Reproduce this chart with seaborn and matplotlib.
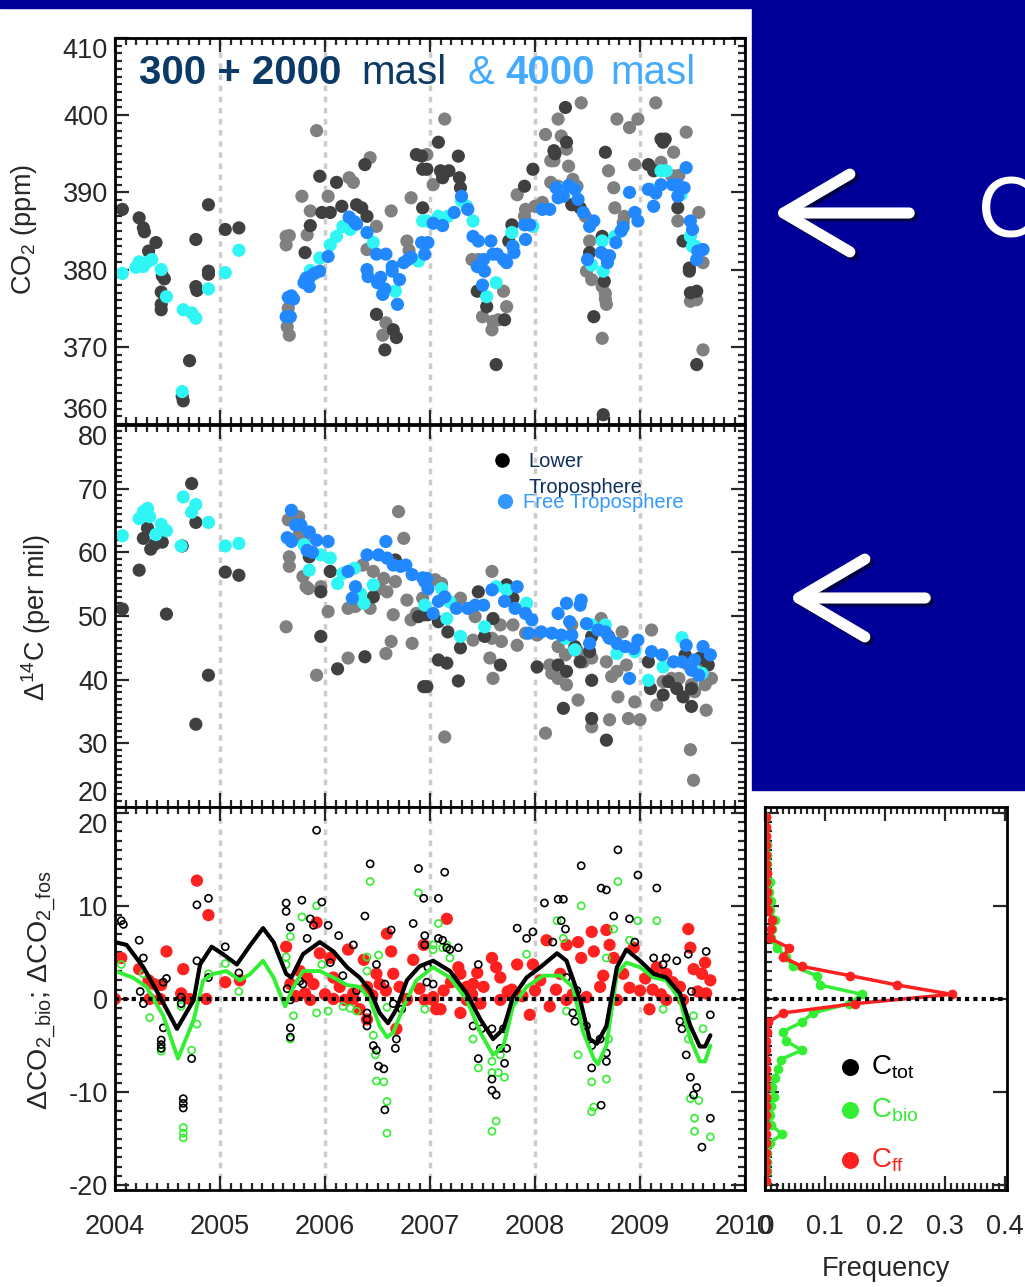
"""
plot.py - CO2, D14C and CO2 source components at the mountain stations,
2004-2010, with a frequency panel for the bio / fossil components.
"""

import numpy as np
import matplotlib
matplotlib.use("Agg")
import matplotlib.pyplot as plt
from matplotlib.ticker import MultipleLocator
from matplotlib.patches import Rectangle, FancyArrowPatch
import seaborn as sns


# ─────────────────────────────────────────────
# Data (decimal year, value)
# ─────────────────────────────────────────────

co2_dark = np.array([
    [2004.07, 387.8], [2004.23, 386.7], [2004.27, 385.4], [2004.28, 384.9], [2004.39, 383.5],
    [2004.32, 382.4], [2004.45, 379.2], [2004.47, 378.8], [2004.44, 377.1], [2004.44, 375.5],
    [2004.44, 374.8], [2004.71, 368.2], [2004.64, 363.6], [2004.65, 363.0], [2004.77, 383.9],
    [2004.77, 377.8], [2004.78, 377.3], [2004.89, 379.8], [2004.89, 379.4], [2004.89, 388.4],
    [2005.05, 385.2], [2005.18, 385.4], [2005.81, 382.2], [2005.86, 385.7], [2005.95, 392.1],
    [2005.97, 387.4], [2006.05, 387.4], [2006.11, 391.3], [2006.16, 388.2], [2006.38, 393.6],
    [2006.30, 388.4], [2006.35, 388.0], [2006.40, 386.9], [2006.49, 374.2], [2006.57, 369.6],
    [2006.65, 372.2], [2006.68, 371.2], [2006.87, 394.9], [2006.92, 394.7], [2006.93, 393.0],
    [2006.93, 388.0], [2006.97, 393.0], [2007.08, 396.5], [2007.10, 392.8], [2007.18, 392.8],
    [2007.12, 391.9], [2007.27, 394.7], [2007.28, 391.9], [2007.29, 390.6], [2007.45, 377.2],
    [2007.54, 375.2], [2007.71, 373.5], [2007.63, 367.7], [2007.78, 385.8], [2007.75, 383.7],
    [2007.90, 390.8], [2007.98, 393.0], [2008.18, 395.4], [2008.19, 395.0], [2008.29, 401.0],
    [2008.30, 396.5], [2008.35, 388.4], [2008.43, 388.0], [2008.52, 382.2], [2008.56, 373.9],
    [2008.64, 384.3], [2008.67, 395.2], [2008.66, 378.5], [2008.65, 361.2], [2009.08, 393.6],
    [2009.13, 392.8], [2009.20, 396.9], [2009.22, 396.5], [2009.24, 396.9], [2009.36, 388.0],
    [2009.41, 383.7], [2009.47, 380.2], [2009.47, 379.8], [2009.48, 377.0], [2009.54, 377.2],
    [2009.54, 367.7],
])

co2_grey = np.array([
    [2005.63, 384.3], [2005.66, 384.4], [2005.63, 383.2], [2005.64, 372.6], [2005.66, 371.5],
    [2005.65, 375.0], [2005.78, 389.5], [2005.83, 384.5], [2005.86, 387.6], [2005.92, 398.0],
    [2006.03, 389.5], [2006.23, 391.9], [2006.27, 391.3], [2006.43, 394.5], [2006.49, 385.6],
    [2006.40, 382.6], [2006.55, 371.5], [2006.58, 373.1], [2006.63, 387.6], [2006.80, 382.5],
    [2006.78, 383.7], [2006.82, 389.3], [2006.97, 394.9], [2007.14, 399.5], [2007.03, 391.0],
    [2007.40, 381.3], [2007.46, 381.3], [2007.50, 373.9], [2007.60, 373.3], [2007.65, 373.5],
    [2007.59, 372.2], [2007.70, 377.2], [2007.73, 375.2], [2007.83, 389.7], [2007.91, 387.8],
    [2007.90, 386.9], [2008.00, 388.2], [2008.07, 388.7], [2008.10, 397.5], [2008.15, 394.1],
    [2008.18, 394.1], [2008.22, 399.5], [2008.44, 401.6], [2008.25, 397.3], [2008.30, 395.6],
    [2008.32, 393.4], [2008.15, 391.3], [2008.22, 390.8], [2008.27, 390.4], [2008.36, 391.7],
    [2008.40, 390.8], [2008.48, 386.9], [2008.52, 383.7], [2008.49, 379.8], [2008.54, 378.7],
    [2008.64, 377.8], [2008.67, 376.9], [2008.67, 376.2], [2008.68, 375.5], [2008.64, 371.1],
    [2008.70, 392.8], [2008.75, 390.6], [2008.76, 388.0], [2008.85, 386.9], [2008.84, 386.1],
    [2008.95, 393.6], [2008.78, 399.5], [2008.90, 398.4], [2008.98, 399.5], [2009.15, 401.6],
    [2009.20, 393.9], [2009.32, 395.2], [2009.30, 392.2], [2009.37, 392.2], [2009.44, 397.8],
    [2009.36, 386.3], [2009.56, 387.4], [2009.60, 380.9], [2009.48, 375.9], [2009.54, 376.1],
    [2009.60, 369.6],
])

co2_cyan = np.array([
    [2004.07, 379.5], [2004.20, 380.3], [2004.23, 381.0], [2004.27, 380.4], [2004.30, 380.9],
    [2004.35, 381.3], [2004.44, 380.0], [2004.49, 376.5], [2004.65, 374.8], [2004.73, 374.4],
    [2004.77, 373.7], [2004.64, 364.2], [2004.89, 377.5], [2005.05, 379.6], [2005.18, 382.5],
    [2005.86, 379.9], [2005.95, 381.5], [2006.05, 383.2], [2006.11, 384.3], [2006.17, 385.6],
    [2006.24, 385.2], [2006.46, 383.5], [2006.55, 376.8], [2006.67, 377.2], [2006.89, 381.1],
    [2006.93, 386.3], [2006.97, 386.3], [2007.08, 386.9], [2007.17, 386.9], [2007.30, 388.9],
    [2007.35, 388.2], [2007.41, 386.3], [2007.54, 376.5], [2007.63, 378.3], [2007.78, 384.8],
    [2007.79, 383.0], [2007.98, 385.6], [2008.25, 390.4], [2008.38, 390.4], [2008.54, 380.6],
    [2008.64, 383.7], [2008.65, 379.8], [2008.76, 384.3], [2009.10, 390.4], [2009.20, 392.8],
    [2009.25, 392.8], [2009.39, 389.7], [2009.48, 384.3], [2009.50, 383.0], [2009.53, 383.0],
])

co2_blue = np.array([
    [2005.63, 373.9], [2005.67, 373.9], [2005.65, 376.4], [2005.68, 376.6], [2005.70, 376.2],
    [2005.80, 378.3], [2005.82, 378.9], [2005.85, 377.8], [2005.86, 379.1], [2005.90, 379.5],
    [2005.95, 379.8], [2006.03, 381.7], [2006.23, 386.8], [2006.30, 385.9], [2006.28, 386.2],
    [2006.40, 384.8], [2006.49, 382.0], [2006.58, 382.0], [2006.40, 380.0], [2006.41, 379.1],
    [2006.50, 378.3], [2006.53, 379.0], [2006.57, 377.5], [2006.55, 376.8], [2006.64, 380.4],
    [2006.64, 379.8], [2006.69, 375.5], [2006.71, 378.7], [2006.75, 380.9], [2006.79, 381.3],
    [2006.82, 381.6], [2006.92, 383.5], [2006.95, 382.0], [2006.98, 383.5], [2007.03, 386.0],
    [2007.12, 385.7], [2007.23, 387.4], [2007.30, 389.5], [2007.36, 387.8], [2007.41, 384.3],
    [2007.46, 383.7], [2007.45, 380.4], [2007.50, 378.0], [2007.52, 379.8], [2007.51, 381.3],
    [2007.58, 383.7], [2007.60, 382.0], [2007.64, 382.0], [2007.70, 381.3], [2007.73, 380.9],
    [2007.80, 382.2], [2007.79, 383.0], [2007.91, 383.9], [2007.90, 385.8], [2007.95, 385.8],
    [2008.07, 387.8], [2008.14, 387.8], [2008.20, 390.6], [2008.27, 389.5], [2008.32, 390.9],
    [2008.38, 390.4], [2008.22, 389.3], [2008.41, 389.1], [2008.46, 387.4], [2008.52, 385.6],
    [2008.56, 386.3], [2008.50, 381.3], [2008.63, 382.2], [2008.67, 381.8], [2008.71, 381.8],
    [2008.69, 380.9], [2008.77, 383.5], [2008.82, 385.0], [2008.84, 385.5], [2008.90, 390.0],
    [2008.95, 387.4], [2008.98, 386.3], [2009.08, 390.4], [2009.15, 389.9], [2009.13, 388.2],
    [2009.20, 391.0], [2009.31, 391.0], [2009.36, 391.0], [2009.42, 390.6], [2009.36, 389.5],
    [2009.44, 393.2], [2009.48, 386.3], [2009.50, 385.2], [2009.55, 382.4], [2009.60, 382.6],
    [2009.54, 381.3],
])

d14_dark = np.array([
    [2004.07, 51.1], [2004.23, 57.2], [2004.27, 62.2], [2004.31, 63.8], [2004.34, 60.5],
    [2004.38, 61.3], [2004.45, 61.6], [2004.49, 50.3], [2004.73, 70.8], [2004.77, 64.7],
    [2004.64, 61.0], [2004.89, 40.7], [2004.77, 33.0], [2005.05, 56.9], [2005.18, 56.4],
    [2005.85, 59.3], [2005.96, 53.8], [2006.05, 57.0], [2005.96, 46.8], [2006.12, 41.7],
    [2006.38, 43.6], [2006.94, 38.9], [2006.67, 58.8], [2006.46, 53.0], [2006.89, 49.9],
    [2006.95, 50.2], [2006.98, 50.2], [2007.08, 49.1], [2007.17, 47.5], [2007.29, 45.0],
    [2007.46, 53.8], [2007.52, 46.8], [2007.67, 42.3], [2007.73, 54.9], [2007.79, 52.8],
    [2007.08, 43.1], [2007.16, 42.6], [2007.27, 39.8], [2006.97, 38.9], [2007.60, 49.6],
    [2008.02, 42.0], [2008.22, 42.3], [2008.30, 41.3], [2008.54, 39.9], [2008.27, 35.5],
    [2008.54, 33.9], [2008.68, 30.5], [2008.52, 44.4], [2008.38, 45.2], [2008.54, 46.8],
    [2008.43, 42.8], [2008.70, 46.8], [2009.08, 42.8], [2009.10, 38.6], [2009.22, 37.6],
    [2009.27, 39.7], [2009.35, 38.6], [2009.41, 37.3], [2009.49, 35.8], [2009.43, 43.9],
    [2009.57, 43.4], [2009.65, 42.3], [2009.49, 38.6],
])

d14_grey = np.array([
    [2005.63, 48.3], [2005.65, 65.1], [2005.75, 65.6], [2005.66, 59.3], [2005.66, 57.8],
    [2005.79, 56.2], [2005.82, 54.6], [2005.84, 54.3], [2005.75, 62.7], [2005.80, 61.7],
    [2005.96, 54.6], [2006.03, 50.7], [2005.92, 40.7], [2006.22, 43.4], [2006.58, 44.1],
    [2006.63, 46.0], [2006.83, 45.7], [2006.22, 51.2], [2006.29, 51.5], [2006.43, 51.2],
    [2006.36, 58.0], [2006.46, 57.0], [2006.56, 55.9], [2006.67, 55.4], [2006.70, 66.4],
    [2006.75, 62.2], [2006.78, 52.5], [2006.93, 52.8], [2006.87, 50.4], [2006.82, 49.4],
    [2006.65, 50.2], [2006.52, 54.3], [2006.59, 53.8], [2007.05, 55.7], [2007.11, 55.1],
    [2007.29, 52.8], [2007.43, 49.9], [2007.41, 46.2], [2007.59, 46.5], [2007.67, 48.6],
    [2007.83, 45.4], [2007.57, 43.4], [2007.60, 40.2], [2007.91, 47.3], [2007.68, 46.0],
    [2007.79, 48.6], [2007.59, 57.0], [2007.14, 31.0], [2008.02, 47.0], [2008.14, 42.3],
    [2008.16, 41.0], [2008.22, 40.2], [2008.30, 39.2], [2008.41, 36.8], [2008.54, 32.6],
    [2008.71, 33.7], [2008.79, 37.3], [2008.89, 33.9], [2008.95, 36.5], [2009.00, 33.7],
    [2008.35, 48.6], [2008.41, 44.4], [2008.46, 42.8], [2008.54, 43.4], [2008.68, 42.8],
    [2008.73, 40.5], [2008.78, 41.3], [2008.87, 42.3], [2008.63, 49.6], [2008.83, 47.5],
    [2008.10, 31.6], [2008.22, 45.2], [2008.29, 43.9], [2009.11, 47.8], [2009.16, 36.0],
    [2009.22, 39.7], [2009.30, 40.2], [2009.37, 40.2], [2009.49, 39.2], [2009.52, 38.1],
    [2009.62, 39.2], [2009.68, 40.2], [2009.63, 35.2], [2009.48, 29.0], [2009.51, 24.2],
    [2009.46, 42.3], [2009.60, 42.3],
])

d14_cyan = np.array([
    [2004.07, 62.6], [2004.23, 65.3], [2004.27, 66.4], [2004.31, 66.9], [2004.33, 65.6],
    [2004.39, 62.8], [2004.44, 64.4], [2004.49, 63.4], [2004.65, 68.7], [2004.77, 67.5],
    [2004.73, 66.3], [2004.89, 64.7], [2004.63, 61.0], [2005.05, 61.0], [2005.18, 61.4],
    [2005.80, 61.2], [2005.96, 59.6], [2006.05, 59.1], [2005.85, 57.2], [2006.12, 55.1],
    [2006.17, 56.7], [2006.28, 57.5], [2006.37, 52.0], [2006.34, 53.5], [2006.46, 54.9],
    [2006.95, 51.7], [2007.11, 54.3], [2007.14, 52.8], [2007.19, 52.2], [2007.16, 49.6],
    [2007.29, 46.8], [2007.52, 48.3], [2007.63, 54.6], [2007.73, 54.1], [2007.92, 52.0],
    [2008.29, 46.5], [2008.38, 44.7], [2008.54, 48.6], [2008.67, 48.6], [2008.78, 44.1],
    [2008.95, 44.4], [2009.08, 39.9], [2009.22, 42.0], [2009.40, 46.6], [2009.51, 41.8],
    [2009.59, 41.0],
])

d14_blue = np.array([
    [2005.68, 66.6], [2005.64, 62.3], [2005.68, 61.7], [2005.72, 64.3], [2005.77, 64.3],
    [2005.85, 63.2], [2005.92, 61.9], [2005.83, 60.3], [2005.88, 60.0], [2006.03, 61.7],
    [2006.22, 57.0], [2006.29, 54.6], [2006.26, 52.8], [2006.40, 59.6], [2006.51, 59.6],
    [2006.58, 61.7], [2006.59, 59.1], [2006.65, 58.0], [2006.72, 57.8], [2006.77, 58.0],
    [2006.83, 56.5], [2006.93, 56.0], [2006.95, 55.4], [2006.97, 55.9], [2006.98, 54.3],
    [2007.08, 52.3], [2007.14, 53.0], [2007.03, 50.4], [2007.25, 51.2], [2007.36, 51.2],
    [2007.43, 51.7], [2007.51, 51.7], [2007.59, 54.1], [2007.71, 52.3], [2007.81, 51.2],
    [2007.83, 54.6], [2007.91, 50.4], [2007.97, 49.4], [2007.94, 47.3], [2008.06, 47.5],
    [2008.16, 47.3], [2008.25, 47.0], [2008.35, 47.0], [2008.22, 50.4], [2008.30, 52.0],
    [2008.33, 49.1], [2008.43, 51.7], [2008.44, 52.5], [2008.49, 48.8], [2008.52, 45.7],
    [2008.60, 47.8], [2008.67, 47.5], [2008.71, 46.5], [2008.78, 45.7], [2008.86, 45.2],
    [2008.94, 44.9], [2008.98, 46.2], [2008.90, 40.2], [2009.11, 44.4], [2009.21, 43.9],
    [2009.32, 42.8], [2009.40, 42.8], [2009.49, 41.5], [2009.52, 43.1], [2009.60, 45.2],
    [2009.67, 43.9], [2009.56, 40.7], [2009.44, 45.4],
])

ff_red = np.array([
    [2004.06, 4.4], [2004.00, 0.0], [2004.23, 3.2], [2004.32, 2.0], [2004.37, 1.6],
    [2004.44, 1.5], [2004.33, 0.0], [2004.43, 0.0], [2004.49, 5.1], [2004.65, 3.2],
    [2004.63, 0.6], [2004.71, 0.0], [2004.78, 12.7], [2004.89, 9.0], [2005.05, 1.8],
    [2005.19, 2.0], [2004.87, 0.0], [2005.63, 5.6], [2005.67, 1.6], [2005.76, 3.0],
    [2005.83, 2.3], [2005.89, 1.6], [2005.81, 0.6], [2005.86, -0.1], [2005.92, 8.2],
    [2005.95, 4.9], [2006.05, 4.4], [2006.08, 2.3], [2006.14, 1.3], [2006.22, 5.3],
    [2006.19, -0.1], [2006.27, 0.6], [2006.37, 4.2], [2006.40, 1.3], [2006.49, 2.7],
    [2006.59, 7.0], [2006.63, 5.1], [2006.52, 1.6], [2006.65, 2.7], [2006.71, 1.3],
    [2006.33, -1.1], [2006.40, -2.2], [2006.68, -3.2], [2006.84, 4.2], [2006.94, 5.8],
    [2006.90, 1.1], [2007.06, -1.1], [2007.16, 8.6], [2007.13, 0.9], [2007.03, 0.2],
    [2006.95, -0.1], [2006.78, 0.0], [2006.08, 0.0], [2006.27, 0.0], [2007.27, 3.4],
    [2007.29, 2.7], [2007.35, 1.3], [2007.41, 1.6], [2007.51, 1.3], [2007.59, 4.4],
    [2007.63, 3.4], [2007.67, 2.3], [2007.83, 3.7], [2007.98, 3.7], [2008.11, 6.3],
    [2008.24, 2.7], [2008.30, 5.8], [2008.41, 6.1], [2008.44, 4.4], [2008.54, 7.2],
    [2008.56, 5.1], [2008.68, 7.4], [2008.71, 5.8], [2008.75, 4.4], [2008.84, 2.7],
    [2008.94, 5.5], [2009.16, 3.4], [2009.25, 2.7], [2009.46, 7.5], [2009.48, 5.5],
    [2009.51, 3.2], [2009.62, 3.9], [2009.67, 2.0], [2009.59, 2.7], [2007.10, -1.1],
    [2007.29, -1.5], [2007.95, -1.7], [2009.09, -1.1], [2006.78, -0.1], [2007.03, -0.1],
    [2007.67, -0.1], [2008.30, -0.1], [2008.78, -0.1], [2009.25, -0.1], [2009.41, -0.1],
    [2007.35, -0.1], [2007.48, -0.5], [2008.14, -0.8], [2008.49, 0.2], [2008.62, 1.3],
    [2009.00, 0.9], [2009.38, 1.3], [2007.40, 0.5], [2007.78, 1.0], [2007.88, 0.3],
    [2008.05, 2.0], [2008.20, 1.0], [2008.36, 0.5], [2008.90, 1.2], [2009.05, 2.2],
    [2009.20, 0.5], [2009.31, 1.8], [2009.55, 0.8], [2006.45, 0.4], [2006.58, 0.9],
    [2006.00, 0.5], [2005.72, 0.3], [2007.20, 1.8], [2007.45, 2.8], [2007.74, 0.8],
    [2008.00, 0.9], [2008.65, 2.5], [2009.12, 1.0], [2009.63, 0.6],
])

tot_black = np.array([
    [2004.06, 8.4], [2004.08, 8.0], [2004.23, 6.3], [2004.27, 4.4], [2004.24, 0.8],
    [2004.27, -0.5], [2004.46, 1.8], [2004.49, 2.2], [2004.46, -3.1], [2004.44, -4.4],
    [2004.44, -4.9], [2004.44, -5.3], [2004.63, 0.2], [2004.63, -0.5], [2004.65, -10.7],
    [2004.65, -11.2], [2004.65, -11.7], [2004.73, -6.4], [2004.78, 4.1], [2004.78, 10.1],
    [2004.89, 10.8], [2004.89, 2.3], [2005.05, 5.6], [2005.18, 2.8], [2005.63, 10.3],
    [2005.63, 9.4], [2005.67, 7.7], [2005.78, 10.6], [2005.97, 10.4], [2005.92, 18.1],
    [2005.86, 8.6], [2005.89, 7.9], [2005.83, 6.5], [2005.64, 1.1], [2005.67, -0.1],
    [2005.67, -3.1], [2005.67, -4.1], [2005.76, 1.9], [2005.79, 1.6], [2006.03, 7.9],
    [2006.05, 3.9], [2006.13, 6.8], [2006.17, 2.5], [2006.27, 5.8], [2006.30, 0.9],
    [2006.38, 8.9], [2006.40, -1.5], [2006.40, -2.2], [2006.40, -2.9], [2006.43, 14.5],
    [2006.46, -5.0], [2006.49, -5.5], [2006.51, -7.2], [2006.56, -7.5], [2006.57, -11.9],
    [2006.49, 3.7], [2006.57, 1.6], [2006.63, 7.4], [2006.65, -0.5], [2006.68, -4.3],
    [2006.67, -5.3], [2006.73, -1.1], [2006.84, 8.1], [2006.89, 14.0], [2006.94, 10.8],
    [2007.08, 10.8], [2007.14, 13.6], [2006.95, 5.8], [2007.03, 1.6], [2006.98, 3.4],
    [2007.16, 5.5], [2006.95, 6.8], [2007.08, 6.5], [2007.12, 6.3], [2007.19, 5.3],
    [2007.27, 5.5], [2006.97, 1.8], [2007.46, 3.7], [2007.41, -2.9], [2007.46, -6.4],
    [2007.49, -3.2], [2007.59, -3.2], [2007.59, -8.6], [2007.59, -9.8], [2007.63, -10.3],
    [2007.71, -6.9], [2007.67, -5.3], [2007.73, -5.3], [2007.70, -3.2], [2007.83, 7.6],
    [2007.92, 6.5], [2007.98, 7.2], [2008.09, 10.3], [2008.22, 10.7], [2008.27, 10.7],
    [2008.25, 8.4], [2008.29, 7.5], [2008.44, 14.3], [2008.63, 11.9], [2008.68, 11.7],
    [2008.75, 8.9], [2008.79, 16.0], [2008.90, 8.6], [2008.95, 6.1], [2008.98, 13.3],
    [2009.16, 11.9], [2009.13, 4.4], [2009.22, 3.7], [2009.25, 4.4], [2009.35, 4.1],
    [2009.46, 4.8], [2009.49, 0.8], [2009.38, -2.4], [2009.40, -3.2], [2009.44, -6.0],
    [2009.48, -8.4], [2009.51, -10.3], [2009.54, -9.5], [2009.59, -15.9], [2009.67, -12.8],
    [2009.63, 5.1], [2009.67, -1.7], [2008.36, -1.5], [2008.38, -2.4], [2008.49, -2.9],
    [2008.54, -5.0], [2008.54, -7.4], [2008.63, -11.4], [2008.68, -5.8], [2008.68, -6.7],
    [2008.62, -4.3], [2008.17, 6.1], [2008.30, 2.3], [2008.40, 0.9],
])

bio_green = np.array([
    [2004.06, 3.7], [2004.27, 2.7], [2004.33, -2.0], [2004.44, -5.3], [2004.44, -5.6],
    [2004.63, -0.8], [2004.73, -5.5], [2004.65, -13.8], [2004.65, -14.4], [2004.65, -14.9],
    [2004.78, -2.7], [2004.89, 2.7], [2005.05, 3.8], [2005.18, 0.8], [2005.63, 4.5],
    [2005.63, 3.7], [2005.67, 6.7], [2005.78, 8.8], [2005.92, 10.0], [2005.67, -4.3],
    [2005.70, -1.8], [2005.92, -1.5], [2006.03, -1.3], [2005.97, 3.7], [2006.17, -0.8],
    [2006.24, -1.0], [2006.30, -1.3], [2006.40, 4.5], [2006.40, 3.0], [2006.43, 12.6],
    [2006.46, -3.9], [2006.48, -6.0], [2006.49, -8.8], [2006.56, -8.9], [2006.59, -11.0],
    [2006.59, -14.4], [2006.59, -0.9], [2006.51, 4.7], [2007.03, 5.3], [2006.89, 11.4],
    [2007.08, 8.1], [2006.95, -1.1], [2007.16, 5.8], [2007.03, 5.8], [2007.12, 5.5],
    [2007.19, 4.4], [2007.41, -4.3], [2007.46, -7.4], [2007.59, -6.7], [2007.59, -7.9],
    [2007.65, -7.9], [2007.71, -8.4], [2007.63, -13.1], [2007.59, -14.2], [2007.67, -6.0],
    [2007.92, 4.8], [2008.21, 8.4], [2008.27, 6.5], [2008.44, 10.0], [2008.54, -8.9],
    [2008.56, -11.6], [2008.54, -12.1], [2008.68, -8.6], [2008.41, -6.0], [2008.70, -4.3],
    [2008.79, 12.6], [2008.98, 8.4], [2008.90, 6.3], [2009.16, 8.4], [2008.75, 7.5],
    [2009.46, -4.3], [2009.48, -10.7], [2009.52, -12.8], [2009.52, -14.2], [2009.56, -10.9],
    [2009.67, -14.8], [2009.60, -3.2], [2009.51, -1.8], [2008.68, 4.4], [2008.30, -1.3],
    [2009.22, -1.1],
])

# smooth curves through the components
tot_curve = np.array([
    [2004.00, 6.1], [2004.11, 5.8], [2004.27, 3.4], [2004.43, 0.2], [2004.59, -3.2],
    [2004.75, -0.1], [2004.81, 3.7], [2004.92, 5.6], [2005.03, 4.8], [2005.16, 3.7],
    [2005.29, 5.8], [2005.41, 7.6], [2005.51, 6.1], [2005.63, 2.7], [2005.68, 2.3],
    [2005.79, 4.8], [2005.95, 6.1], [2006.08, 5.1], [2006.21, 3.4], [2006.33, 2.3],
    [2006.43, 0.9], [2006.52, -1.5], [2006.60, -2.6], [2006.68, -1.1], [2006.78, 2.0],
    [2006.90, 3.5], [2007.03, 4.1], [2007.19, 3.0], [2007.35, 0.6], [2007.48, -2.2],
    [2007.60, -4.3], [2007.70, -3.2], [2007.79, 0.2], [2007.92, 2.3], [2008.05, 3.4],
    [2008.21, 4.9], [2008.30, 4.1], [2008.43, -0.1], [2008.52, -4.3], [2008.59, -4.8],
    [2008.68, -2.9], [2008.78, 3.4], [2008.87, 5.3], [2009.00, 4.1], [2009.13, 2.7],
    [2009.25, 2.3], [2009.38, 0.6], [2009.48, -2.9], [2009.57, -5.1], [2009.62, -5.1],
    [2009.67, -3.9],
])

bio_curve = np.array([
    [2004.00, 3.0], [2004.17, 2.3], [2004.30, 1.3], [2004.46, -1.8], [2004.60, -6.4],
    [2004.75, -2.2], [2004.84, 2.0], [2004.94, 2.7], [2005.06, 3.0], [2005.19, 2.0],
    [2005.29, 2.7], [2005.41, 4.1], [2005.51, 2.3], [2005.62, -0.8], [2005.70, 1.3],
    [2005.79, 3.0], [2005.95, 3.0], [2006.08, 2.3], [2006.21, 1.5], [2006.33, 1.3],
    [2006.43, -0.1], [2006.52, -2.9], [2006.59, -4.1], [2006.65, -3.6], [2006.75, -0.8],
    [2006.87, 2.0], [2007.03, 3.4], [2007.19, 2.3], [2007.35, -0.1], [2007.48, -3.6],
    [2007.60, -6.0], [2007.70, -5.0], [2007.79, -0.8], [2007.92, 1.3], [2008.08, 2.5],
    [2008.24, 2.5], [2008.36, 1.3], [2008.46, -3.6], [2008.56, -6.4], [2008.60, -7.0],
    [2008.68, -5.0], [2008.78, 2.7], [2008.87, 3.9], [2009.00, 3.4], [2009.13, 2.3],
    [2009.25, 2.0], [2009.38, -0.1], [2009.48, -4.3], [2009.57, -6.7], [2009.62, -6.7],
    [2009.67, -5.0],
])

# frequency distribution of the components (1 ppm bins)
hist_bins = [19.5, 18.5, 17.5, 16.5, 15.5, 14.5, 13.5, 12.5, 11.5, 10.5,
             9.5, 8.5, 7.5, 6.5, 5.5, 4.5, 3.5, 2.5, 1.5, 0.5,
             -0.5, -1.5, -2.5, -3.5, -4.5, -5.5, -6.5, -7.5, -8.5, -9.5,
             -10.5, -11.5, -12.5, -13.5, -14.5, -15.5, -16.5, -17.5, -18.5, -19.5]
hist_bio = [0.002, 0.002, 0.002, 0.003, 0.003, 0.004, 0.004, 0.008, 0.006, 0.010,
            0.008, 0.017, 0.012, 0.010, 0.020, 0.035, 0.047, 0.086, 0.092, 0.161,
            0.140, 0.080, 0.061, 0.030, 0.035, 0.061, 0.026, 0.022, 0.017, 0.012,
            0.015, 0.010, 0.008, 0.010, 0.028, 0.008, 0.004, 0.003, 0.003, 0.002]
hist_ff = [0.001, 0.001, 0.002, 0.001, 0.002, 0.001, 0.003, 0.002, 0.004, 0.003,
           0.005, 0.012, 0.010, 0.008, 0.040, 0.030, 0.061, 0.142, 0.220, 0.311,
           0.150, 0.030, 0.005, 0.003, 0.002, 0.002, 0.002, 0.001, 0.002, 0.001,
           0.002, 0.001, 0.002, 0.001, 0.002, 0.001, 0.002, 0.001, 0.002, 0.001]

years = [2004, 2005, 2006, 2007, 2008, 2009, 2010]
freq_ticks = [0, 0.1, 0.2, 0.3, 0.4]
freq_labels = ["0", "0.1", "0.2", "0.3", "0.4"]


# ─────────────────────────────────────────────
# Style
# ─────────────────────────────────────────────

sns.set_style("ticks")
plt.rcParams["font.family"] = ["Liberation Sans", "DejaVu Sans"]
plt.rcParams["mathtext.fontset"] = "custom"
plt.rcParams["mathtext.rm"] = "Liberation Sans"
plt.rcParams["mathtext.it"] = "Liberation Sans:italic"
plt.rcParams["mathtext.bf"] = "Liberation Sans:bold"

NAVY_BG = "#000099"
DARK = "#404040"
GREY = "#808080"
CYAN = "#30f5f5"
BLUE = "#2288ff"
LIME = "#33ee33"
RED = "#ff2020"
TICK_FS = 19.5
LABEL_FS = 19.5

W, H = 1025, 1287


def fx(px):
    return px / W


def fy(py):
    return 1 - py / H


def style_axes(ax, xmajor, xminor, ymajor, yminor):
    for s in ax.spines.values():
        s.set_linewidth(2)
        s.set_color("black")
    ax.xaxis.set_major_locator(MultipleLocator(xmajor))
    ax.xaxis.set_minor_locator(MultipleLocator(xminor))
    ax.yaxis.set_major_locator(MultipleLocator(ymajor))
    ax.yaxis.set_minor_locator(MultipleLocator(yminor))
    ax.tick_params(which="both", direction="in", top=True, right=True,
                   width=1.6, labelsize=TICK_FS, pad=5)
    ax.tick_params(which="major", length=10)
    ax.tick_params(which="minor", length=5)


def year_grid(ax):
    for yr in years[1:-1]:
        ax.axvline(yr, color="#cccccc", lw=2.5, ls=(0, (1.6, 1.6)), zorder=0)


def dots(ax, arr, color, s=90):
    sns.scatterplot(x=arr[:, 0], y=arr[:, 1], ax=ax, color=color, s=s,
                    linewidth=0, edgecolor="none", legend=False)


def rings(ax, arr, color, s=26):
    sns.scatterplot(x=arr[:, 0], y=arr[:, 1], ax=ax, facecolor="none",
                    edgecolor=color, s=s, linewidth=1.2, legend=False)


# ─────────────────────────────────────────────
# Figure and background
# ─────────────────────────────────────────────

fig = plt.figure(figsize=(W / 100, H / 100), dpi=100, facecolor="white")
fig.patches.append(Rectangle((0, fy(8)), 1, 8 / H, transform=fig.transFigure,
                             color=NAVY_BG, zorder=-10))
fig.patches.append(Rectangle((fx(752), fy(790)), 1 - fx(752), 790 / H,
                             transform=fig.transFigure, color=NAVY_BG, zorder=-10))

for (tail, tip, yy) in [(912, 770, 213), (928, 785, 598)]:
    for off, col in [(3, "#000044"), (0, "white")]:
        arr = FancyArrowPatch((fx(tail + off), fy(yy + off)), (fx(tip + off), fy(yy + off)),
                              transform=fig.transFigure,
                              arrowstyle="->,head_length=3.4,head_width=2.0",
                              mutation_scale=14, lw=8, color=col,
                              capstyle="round", joinstyle="round")
        fig.add_artist(arr)
fig.text(fx(978), fy(215), "C", color="white", fontsize=60, va="center", ha="left",
         family=["Lato", "DejaVu Sans"])

ax1 = fig.add_axes([fx(115), fy(424), 630 / W, 386 / H])
ax2 = fig.add_axes([fx(115), fy(807), 630 / W, 382 / H])
ax3 = fig.add_axes([fx(115), fy(1190), 630 / W, 383 / H])
axh = fig.add_axes([fx(765), fy(1190), 242 / W, 383 / H])


# ─────────────────────────────────────────────
# Panel 1: CO2
# ─────────────────────────────────────────────

year_grid(ax1)
dots(ax1, co2_grey, GREY)
dots(ax1, co2_dark, DARK)
dots(ax1, co2_cyan, CYAN)
dots(ax1, co2_blue, BLUE)
ax1.set_xlim(2004, 2010)
ax1.set_ylim(360, 410)
style_axes(ax1, 1, 0.1, 10, 1)
ax1.tick_params(labelbottom=False)
ax1.set_yticks([360, 370, 380, 390, 400, 410])

# two-colour title, pieces placed where they sit in the original
title_parts = [
    (139, "300 + 2000", "#0b3a66", "bold"),
    (361, "masl", "#0b3a66", "normal"),
    (468, "&", "#44aaff", "normal"),
    (505, "4000", "#44aaff", "bold"),
    (610, "masl", "#44aaff", "normal"),
]
for px, txt, col, wt in title_parts:
    fig.text(fx(px), fy(84), txt, color=col, fontsize=29, fontweight=wt, va="baseline")


# ─────────────────────────────────────────────
# Panel 2: D14C
# ─────────────────────────────────────────────

year_grid(ax2)
dots(ax2, d14_grey, GREY)
dots(ax2, d14_dark, DARK)
dots(ax2, d14_cyan, CYAN)
dots(ax2, d14_blue, BLUE)
ax2.set_xlim(2004, 2010)
ax2.set_ylim(20, 80)
style_axes(ax2, 1, 0.1, 10, 1)
ax2.tick_params(labelbottom=False)
ax2.set_yticks([20, 30, 40, 50, 60, 70, 80])

ax2.scatter([0.614], [0.908], transform=ax2.transAxes, s=110, color="black", lw=0)
ax2.scatter([0.619], [0.801], transform=ax2.transAxes, s=120, color="#3399ff", lw=0)
ax2.text(0.656, 0.905, "Lower", transform=ax2.transAxes, fontsize=14.5,
         color="#0d2f5e", va="center")
ax2.text(0.656, 0.837, "Troposphere", transform=ax2.transAxes, fontsize=14.5,
         color="#0d2f5e", va="center")
ax2.text(0.648, 0.797, "Free Troposphere", transform=ax2.transAxes, fontsize=14.5,
         color="#3399ff", va="center")


# ─────────────────────────────────────────────
# Panel 3: CO2 components
# ─────────────────────────────────────────────

year_grid(ax3)
dots(ax3, ff_red, RED, s=78)
rings(ax3, bio_green, LIME)
rings(ax3, tot_black, "black")
sns.lineplot(x=bio_curve[:, 0], y=bio_curve[:, 1], ax=ax3, color=LIME, lw=2.8,
             sort=False, estimator=None)
sns.lineplot(x=tot_curve[:, 0], y=tot_curve[:, 1], ax=ax3, color="black", lw=3.0,
             sort=False, estimator=None)
ax3.axhline(0, color="black", lw=3, ls=(0, (1, 1)), zorder=5)
ax3.set_xlim(2004, 2010)
ax3.set_ylim(-20.5, 20.6)
style_axes(ax3, 1, 0.1, 10, 1)
ax3.set_xticks(years)
ax3.set_xticklabels([str(y) for y in years])
ax3.set_yticks([-20, -10, 0, 10, 20])
ax3.set_yticklabels(["-20", "-10", "0", "10", "20"])
ax3.tick_params(axis="x", pad=17)


# ─────────────────────────────────────────────
# Frequency panel
# ─────────────────────────────────────────────

sns.lineplot(x=hist_bio, y=hist_bins, ax=axh, color=LIME, lw=2.5, marker="o",
             markersize=7, markeredgewidth=0, sort=False, estimator=None)
sns.lineplot(x=hist_ff, y=hist_bins, ax=axh, color=RED, lw=2.5, marker="o",
             markersize=7, markeredgewidth=0, sort=False, estimator=None)
axh.axhline(0, color="black", lw=3, ls=(0, (1, 1)), zorder=5)
axh.set_xlim(0, 0.403)
axh.set_ylim(-20.5, 20.6)
style_axes(axh, 0.1, 0.01, 10, 1)
axh.set_xticks(freq_ticks)
axh.set_xticklabels(freq_labels)
axh.tick_params(axis="x", pad=17)
axh.tick_params(axis="y", labelleft=False, labelright=False)
axh.tick_params(axis="y", which="minor", right=False)
axh.set_xlabel("Frequency", fontsize=LABEL_FS, labelpad=12)
axh.set_ylabel("")

for yy, col, sub in [(0.321, "black", "tot"), (0.209, LIME, "bio"), (0.078, RED, "ff")]:
    axh.scatter([0.351], [yy], transform=axh.transAxes, s=150, color=col, lw=0, zorder=6)
    axh.text(0.44, yy, r"C$_{\rm %s}$" % sub, transform=axh.transAxes, fontsize=20,
             color=col, va="center", ha="left")


# ─────────────────────────────────────────────
# Axis labels and edge tick labels
# ─────────────────────────────────────────────

fig.text(fx(24), fy(230), "CO$_2$ (ppm)", rotation=90, fontsize=LABEL_FS,
         ha="center", va="center")
fig.text(fx(36), fy(617), "Δ$^{14}$C (per mil)", rotation=90, fontsize=LABEL_FS,
         ha="center", va="center")
fig.text(fx(42), fy(990), r"ΔCO$_{\rm 2\_bio}$; ΔCO$_{\rm 2\_fos}$", rotation=90,
         fontsize=20.5, ha="center", va="center")

for ax in (ax1, ax2, ax3):
    ax.set_xlabel("")
    ax.set_ylabel("")

labs1 = ax1.get_yticklabels()
labs1[0].set_va("bottom")
labs1[-1].set_va("top")
labs2 = ax2.get_yticklabels()
labs2[0].set_va("bottom")
labs2[-1].set_va("top")
labs3 = ax3.get_yticklabels()
labs3[-1].set_va("top")

fig.savefig("out.png", dpi=100, facecolor=fig.get_facecolor())
plt.close(fig)
